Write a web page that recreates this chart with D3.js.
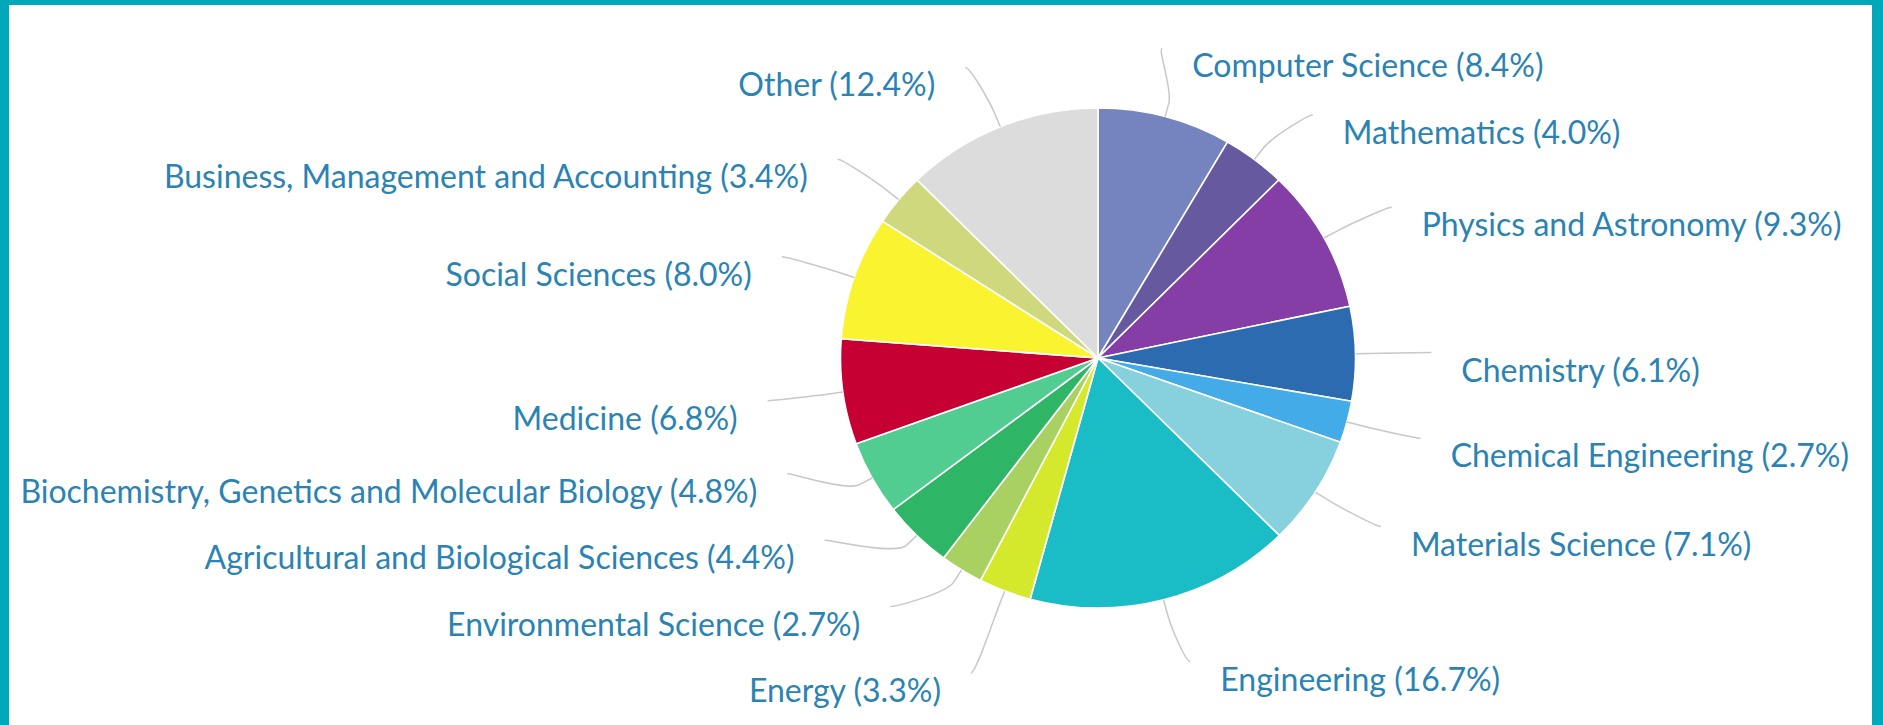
<html>
  <head>
    <script src="https://cdnjs.cloudflare.com/ajax/libs/d3/7.8.5/d3.min.js" charset="utf-8"></script>
    <style type="text/css">
    html, body {
      margin: 0;
      padding: 0;
      background: #fff;
    }
    #frame {
      position: absolute;
      left: 0;
      top: 0;
      width: 1863px;
      height: 725px;
      border-style: solid;
      border-color: #00a8b9;
      border-width: 5px 11px 0 9px;
      overflow: hidden;
    }
    #chart {
      position: absolute;
      left: -9px;
      top: -5px;
    }
    </style>
  </head>
  <body>
    <div id="frame"><div id="chart"></div></div>
  </body>

  <script type="text/javascript">
  // subject areas, clockwise from 12 o'clock
  var categories = [
    "Computer Science", "Mathematics", "Physics and Astronomy", "Chemistry",
    "Chemical Engineering", "Materials Science", "Engineering", "Energy",
    "Environmental Science", "Agricultural and Biological Sciences",
    "Biochemistry, Genetics and Molecular Biology", "Medicine",
    "Social Sciences", "Business, Management and Accounting", "Other"
  ]
  var shares = [8.4, 4.0, 9.3, 6.1, 2.7, 7.1, 16.7, 3.3, 2.7, 4.4, 4.8, 6.8, 8.0, 3.4, 12.4]
  var colors = [
    "#7584bf", "#6759a0", "#843ea6", "#2d6bb0", "#42abe8", "#87d0de", "#1abcc5",
    "#d5e92c", "#a8d161", "#2eb566", "#51cd91", "#c70033", "#f9f42f", "#d0d87e", "#dcdcdc"
  ]

  var width = 1883,
    height = 725

  var cx = 1098, cy = 358
  var r = 250, sx = 1.03        // pie is drawn slightly wide
  var labelR = 314              // radius of the label anchors
  var labelPad = 10
  var gap = 66.5                // min vertical distance between labels
  var topY = 48, bottomY = 673

  var svg = d3.select("#chart")
    .append("svg")
    .attr("width", width)
    .attr("height", height)

  var pie = d3.pie().sort(null).value(function(d){return d})
  var arcs = pie(shares)
  var arc = d3.arc().innerRadius(0).outerRadius(r)

  var g = svg.append("g")
    .attr("transform", "translate(" + cx + "," + cy + ") scale(" + sx + ",1)")

  g.selectAll("path").data(arcs).enter().append("path")
    .attr("d", arc)
    .style("fill", function(d, i){return colors[i]})
    .style("stroke", "#fff")
    .style("stroke-width", 1.6)
    .attr("vector-effect", "non-scaling-stroke")

  // label layout
  var labels = arcs.map(function(d, i){
    var a = (d.startAngle + d.endAngle) / 2
    return {
      i: i,
      a: a,
      right: a < Math.PI,
      natural: cy - labelR * Math.cos(a),
      touch: [cx + sx * r * Math.sin(a), cy - r * Math.cos(a)],
      brk: [cx + sx * (r + 14) * Math.sin(a), cy - (r + 14) * Math.cos(a)]
    }
  })

  function distribute(items) {
    items.sort(function(a, b){return a.natural - b.natural})
    var groups = items.map(function(d){return [d]})
    var place = function(grp){
      var h = (grp.length - 1) * gap
      var t = d3.mean(grp, function(d){return d.natural}) - h / 2
      return Math.max(topY, Math.min(bottomY - h, t))
    }
    var merged = true
    while (merged) {
      merged = false
      for (var j = 1; j < groups.length; j++) {
        if (place(groups[j]) < place(groups[j-1]) + groups[j-1].length * gap) {
          groups[j-1] = groups[j-1].concat(groups[j])
          groups.splice(j, 1)
          merged = true
          break
        }
      }
    }
    groups.forEach(function(grp){
      var t = place(grp)
      grp.forEach(function(d, k){ d.y = t + k * gap })
    })
  }

  distribute(labels.filter(function(d){return d.right}))
  distribute(labels.filter(function(d){return !d.right}))

  labels.forEach(function(d){
    // labels squeezed at the top/bottom keep the x of their natural spot
    var yy = (d.y > cy + labelR - 2 || d.y < cy - labelR + 2) ? d.natural : d.y
    var dx = Math.sqrt(Math.max(0, labelR * labelR - (yy - cy) * (yy - cy))) * sx + labelPad
    d.x = d.right ? cx + dx : cx - dx
  })
  labels.sort(function(a, b){return a.i - b.i})

  svg.selectAll(".connector").data(labels).enter().append("path")
    .attr("class", "connector")
    .attr("d", function(d){
      var c1 = d.x + (d.right ? -5 : 5)
      return "M" + d.x + "," + d.y +
        "C" + c1 + "," + d.y + " " +
        (2 * d.brk[0] - d.touch[0]) + "," + (2 * d.brk[1] - d.touch[1]) + " " +
        d.brk[0] + "," + d.brk[1] +
        "L" + d.touch[0] + "," + d.touch[1]
    })
    .style("fill", "none")
    .style("stroke", "#c8c8c8")
    .style("stroke-width", 1.5)

  svg.selectAll(".label").data(labels).enter().append("text")
    .attr("class", "label")
    .attr("x", function(d){return d.right ? d.x + 30 : d.x - 30})
    .attr("y", function(d){return d.y + 29})
    .attr("text-anchor", function(d){return d.right ? "start" : "end"})
    .style("font-family", "Lato, 'Open Sans', sans-serif")
    .style("font-size", "32px")
    .style("fill", "#2b83b3")
    .text(function(d){return categories[d.i] + " (" + shares[d.i].toFixed(1) + "%)"})

  </script>
</html>
